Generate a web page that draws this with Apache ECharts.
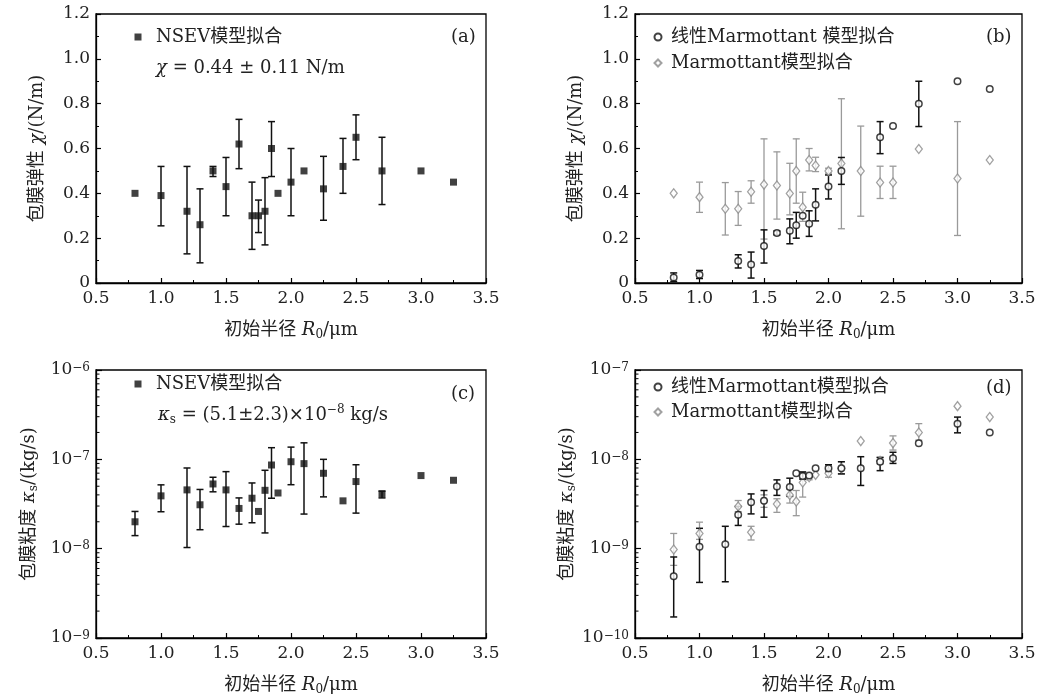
<!DOCTYPE html>
<html><head><meta charset="utf-8">
<script src="https://cdn.jsdelivr.net/npm/echarts@6/dist/echarts.min.js"></script>
<style>html,body{margin:0;padding:0;background:#fff}#c{width:1045px;height:697px}</style>
</head><body><div id="c"></div>
<script>
// ---------- data ----------
const xTicks = [0.5, 1.0, 1.5, 2.0, 2.5, 3.0, 3.5];
// (a) NSEV elasticity
const R_a = [0.8,1.0,1.2,1.3,1.4,1.5,1.6,1.7,1.75,1.8,1.85,1.9,2.0,2.1,2.25,2.4,2.5,2.7,3.0,3.25];
const chi_a = [0.40,0.39,0.32,0.26,0.50,0.43,0.62,0.30,0.30,0.32,0.60,0.40,0.45,0.50,0.42,0.52,0.65,0.50,0.50,0.45];
const chi_a_lo = [null,0.255,0.13,0.09,0.475,0.30,0.51,0.15,0.225,0.17,0.475,null,0.30,null,0.28,0.40,0.55,0.35,null,null];
const chi_a_hi = [null,0.52,0.52,0.42,0.52,0.56,0.73,0.45,0.37,0.47,0.72,null,0.60,null,0.565,0.645,0.75,0.65,null,null];
// (b) linear Marmottant elasticity
const R_bL = [0.8,1.0,1.3,1.4,1.5,1.6,1.7,1.75,1.8,1.85,1.9,2.0,2.1,2.4,2.5,2.7,3.0,3.25];
const chi_bL = [0.025,0.037,0.098,0.082,0.165,0.223,0.233,0.258,0.30,0.264,0.349,0.43,0.50,0.65,0.70,0.80,0.90,0.865];
const chi_bL_lo = [0.007,0.02,0.067,0.022,0.089,0.215,0.175,0.20,null,0.208,0.277,0.375,0.44,0.577,null,0.698,null,null];
const chi_bL_hi = [0.045,0.056,0.126,0.138,0.237,0.232,0.286,0.315,null,0.322,0.42,0.482,0.56,0.72,null,0.90,null,null];
// (b) Marmottant elasticity
const R_bM = [0.8,1.0,1.2,1.3,1.4,1.5,1.6,1.7,1.75,1.8,1.85,1.9,2.0,2.1,2.25,2.4,2.5,2.7,3.0,3.25];
const chi_bM = [0.40,0.383,0.331,0.331,0.407,0.439,0.435,0.399,0.50,0.338,0.549,0.524,0.50,0.533,0.50,0.448,0.448,0.598,0.466,0.549];
const chi_bM_lo = [null,0.315,0.214,0.257,0.356,0.196,0.285,0.304,0.356,0.275,0.50,0.497,0.49,0.242,0.298,0.377,0.377,null,0.212,null];
const chi_bM_hi = [null,0.45,0.448,0.408,0.456,0.643,0.585,0.534,0.643,0.405,0.60,0.561,0.512,0.822,0.70,0.521,0.521,null,0.72,null];
// (c) NSEV viscosity
const R_c = [0.8,1.0,1.2,1.3,1.4,1.5,1.6,1.7,1.75,1.8,1.85,1.9,2.0,2.1,2.25,2.4,2.5,2.7,3.0,3.25];
const kap_c = [2.0e-8,3.9e-8,4.55e-8,3.1e-8,5.3e-8,4.55e-8,2.82e-8,3.67e-8,2.61e-8,4.5e-8,8.64e-8,4.2e-8,9.4e-8,8.95e-8,6.98e-8,3.43e-8,5.64e-8,4.11e-8,6.58e-8,5.83e-8];
const kap_c_lo = [1.4e-8,2.59e-8,1.03e-8,1.63e-8,4.33e-8,1.77e-8,1.88e-8,1.95e-8,null,1.5e-8,3.67e-8,null,5.2e-8,2.44e-8,3.8e-8,null,2.5e-8,3.7e-8,null,null];
const kap_c_hi = [2.61e-8,5.18e-8,8.0e-8,4.6e-8,6.3e-8,7.28e-8,3.7e-8,5.44e-8,null,7.54e-8,1.35e-7,null,1.37e-7,1.53e-7,1.0e-7,null,8.7e-8,4.4e-8,null,null];
// (d) linear Marmottant viscosity
const R_dL = [0.8,1.0,1.2,1.3,1.4,1.5,1.6,1.7,1.75,1.8,1.85,1.9,2.0,2.1,2.25,2.4,2.5,2.7,3.0,3.25];
const kap_dL = [4.92e-10,1.05e-9,1.12e-9,2.39e-9,3.3e-9,3.44e-9,4.96e-9,4.89e-9,6.99e-9,6.52e-9,6.6e-9,7.94e-9,7.94e-9,7.94e-9,7.94e-9,9.4e-9,1.03e-8,1.51e-8,2.51e-8,2.0e-8];
const kap_dL_lo = [1.72e-10,4.19e-10,4.26e-10,1.82e-9,2.45e-9,2.25e-9,3.95e-9,3.85e-9,null,6.0e-9,null,null,7.2e-9,6.87e-9,5.1e-9,7.47e-9,9.0e-9,null,1.98e-8,null];
const kap_dL_hi = [8.07e-10,1.69e-9,1.78e-9,2.97e-9,4.1e-9,4.48e-9,5.89e-9,6.15e-9,null,7.22e-9,null,null,8.7e-9,9.4e-9,1.07e-8,1.05e-8,1.2e-8,null,2.97e-8,null];
// (d) Marmottant viscosity
const R_dM = [0.8,1.0,1.3,1.4,1.5,1.6,1.7,1.75,1.8,1.85,1.9,2.0,2.1,2.25,2.4,2.5,2.7,3.0,3.25];
const kap_dM = [9.8e-10,1.48e-9,2.97e-9,1.53e-9,3.44e-9,3.16e-9,3.98e-9,3.38e-9,5.5e-9,6.3e-9,6.7e-9,7.0e-9,7.94e-9,1.6e-8,9.6e-9,1.52e-8,2.0e-8,3.94e-8,2.97e-8];
const kap_dM_lo = [6.5e-10,1.27e-9,2.6e-9,1.25e-9,2.9e-9,2.55e-9,3.24e-9,2.34e-9,3.78e-9,5.9e-9,null,6.3e-9,6.87e-9,null,8.9e-9,1.27e-8,1.64e-8,null,null];
const kap_dM_hi = [1.48e-9,1.98e-9,3.46e-9,1.78e-9,4.0e-9,3.62e-9,4.64e-9,4.48e-9,7.2e-9,6.8e-9,null,7.8e-9,9.4e-9,null,1.05e-8,1.83e-8,2.51e-8,null,null];

const LABEL_NSEV = 'NSEV模型拟合';
const LABEL_LIN_B = '线性Marmottant 模型拟合';
const LABEL_LIN_D = '线性Marmottant模型拟合';
const LABEL_MAR = 'Marmottant模型拟合';

// ---------- chart ----------
const serif = "'DejaVu Serif','Noto Sans CJK SC',serif";
const FS = 18, TFS = 17, TXT = '#222';
const rich = {
  i: {fontStyle:'italic', fontFamily:serif, fontSize:FS, lineHeight:22, color:TXT},
  sub: {fontFamily:serif, fontSize:12, lineHeight:12, verticalAlign:'bottom', color:TXT},
  sup: {fontFamily:serif, fontSize:12, lineHeight:12, verticalAlign:'top', color:TXT}
};
const baseText = {fontFamily:serif, fontSize:FS, color:TXT, lineHeight:22, fontWeight:'normal', rich};

const grids = [
  {left:96, top:14, width:390, height:269},
  {left:635, top:14, width:387, height:269},
  {left:96, top:370, width:390, height:269},
  {left:635, top:370, width:387, height:269}
];

function xAxis(gi){
  return {type:'value', gridIndex:gi, min:xTicks[0], max:xTicks[xTicks.length-1], interval:0.5,
    axisLine:{lineStyle:{color:'#000', width:1.3}},
    axisTick:{inside:true, length:5, lineStyle:{color:'#000', width:1.2}},
    minorTick:{show:true, splitNumber:2, length:3, lineStyle:{color:'#000', width:1}},
    splitLine:{show:false},
    axisLabel:{formatter:v=>v.toFixed(1), margin:7, fontFamily:serif, fontSize:TFS, color:TXT},
    name:'初始半径 {i|R}{sub|0}/μm', nameLocation:'middle', nameGap:36, nameTextStyle:baseText};
}
function yLin(gi){
  return {type:'value', gridIndex:gi, min:0, max:1.2, interval:0.2,
    axisLine:{lineStyle:{color:'#000', width:1.3}},
    axisTick:{inside:true, length:5, lineStyle:{color:'#000', width:1.2}},
    minorTick:{show:true, splitNumber:2, length:3, lineStyle:{color:'#000', width:1}},
    splitLine:{show:false},
    axisLabel:{formatter:v=>v===0?'0':v.toFixed(1), margin:6, fontFamily:serif, fontSize:TFS, color:TXT},
    name:'包膜弹性 {i|χ}/(N/m)', nameLocation:'middle', nameGap:48, nameRotate:90, nameTextStyle:baseText};
}
function yLog(gi, lo, hi){
  return {type:'log', logBase:10, gridIndex:gi, min:lo, max:hi,
    axisLine:{lineStyle:{color:'#000', width:1.3}},
    axisTick:{inside:true, length:6, lineStyle:{color:'#000', width:1.2}},
    splitLine:{show:false},
    axisLabel:{formatter:v=>'10{sup|−'+Math.abs(Math.round(Math.log10(v)))+'}', margin:6,
      fontFamily:serif, fontSize:TFS, color:TXT, rich},
    name:'包膜粘度 {i|κ}{sub|s}/(kg/s)', nameLocation:'middle', nameGap:56, nameRotate:90, nameTextStyle:baseText};
}

function pts(R, v){ return R.map((r,i)=>[r, v[i]]); }
function errSeries(gi, R, lo, hi, color, lw){
  const data = [];
  R.forEach((r,i)=>{ if(lo[i]!=null && hi[i]!=null) data.push([r, lo[i], hi[i]]); });
  return {type:'custom', xAxisIndex:gi, yAxisIndex:gi, data, silent:true, z:2,
    encode:{x:0, y:[1,2]},
    renderItem(params, api){
      const x = api.value(0);
      const p1 = api.coord([x, api.value(1)]);
      const p2 = api.coord([x, api.value(2)]);
      const w = 3.5;
      const st = {stroke:color, lineWidth:lw};
      return {type:'group', children:[
        {type:'line', shape:{x1:p1[0],y1:p1[1],x2:p2[0],y2:p2[1]}, style:st},
        {type:'line', shape:{x1:p1[0]-w,y1:p1[1],x2:p1[0]+w,y2:p1[1]}, style:st},
        {type:'line', shape:{x1:p2[0]-w,y1:p2[1],x2:p2[0]+w,y2:p2[1]}, style:st}
      ]};
    }};
}
function minorLogTicks(gi, lo, hi){
  const vals = [];
  for (let d = lo; d < hi*0.999; d *= 10) for (let m = 2; m <= 9; m++) vals.push(d*m);
  return {type:'custom', xAxisIndex:gi, yAxisIndex:gi, data:vals.map(v=>[xTicks[0], v]), silent:true, z:3,
    renderItem(params, api){
      const p = api.coord([api.value(0), api.value(1)]);
      return {type:'line', shape:{x1:p[0], y1:p[1], x2:p[0]+3.5, y2:p[1]}, style:{stroke:'#000', lineWidth:1}};
    }};
}

const BLACK = '#111', GRAY = '#8a8a8a', GRAYBAR = '#9a9a9a';
const sq = (gi, name, data)=>({type:'scatter', name, xAxisIndex:gi, yAxisIndex:gi, data, symbol:'rect', symbolSize:7,
  itemStyle:{color:BLACK}, z:5});
const circ = (gi, name, data)=>({type:'scatter', name, xAxisIndex:gi, yAxisIndex:gi, data, symbol:'circle', symbolSize:6.5,
  itemStyle:{color:'#fff', borderColor:BLACK, borderWidth:1.5}, z:6});
const dia = (gi, name, data)=>({type:'scatter', name, xAxisIndex:gi, yAxisIndex:gi, data, symbol:'diamond', symbolSize:[7,9],
  itemStyle:{color:'#fff', borderColor:GRAY, borderWidth:1.3}, z:5});

function legend(names, markerX, textX, top, gap){
  const spacer = Math.max(0, textX - (markerX + 3.5 + 5));
  return {orient:'vertical', padding:0, itemWidth:7, itemHeight:7, itemGap:gap,
    left:markerX-3.5, top, data:names, selectedMode:false,
    formatter:n=>'{g| }'+n,
    textStyle:{fontFamily:serif, fontSize:FS, color:TXT, lineHeight:22,
      rich:{g:{width:spacer, fontSize:FS, lineHeight:22}}}};
}
const panelLabel = (txt, cx, cy)=>({text:txt, left:cx-13, top:cy-11, padding:0, textStyle:baseText});

const option = {
  animation:false,
  backgroundColor:'#fff',
  grid: grids.map(g=>Object.assign({show:true, borderColor:'#000', borderWidth:1.3, containLabel:false}, g)),
  xAxis:[xAxis(0), xAxis(1), xAxis(2), xAxis(3)],
  yAxis:[yLin(0), yLin(1), yLog(2, 1e-9, 1e-6), yLog(3, 1e-10, 1e-7)],
  legend:[
    legend([LABEL_NSEV], 138, 156, 26, 9),
    legend([LABEL_LIN_B, LABEL_MAR], 657, 670, 26, 4),
    legend([LABEL_NSEV], 138, 156, 373, 9),
    legend([LABEL_LIN_D, LABEL_MAR], 657, 670, 376, 3)
  ],
  title:[
    {text:'{i|χ} = 0.44 ± 0.11 N/m', left:156, top:57, padding:0, textStyle:baseText},
    panelLabel('(a)', 464, 37),
    panelLabel('(b)', 999, 37),
    {text:'{i|κ}{sub|s} = (5.1±2.3)×10{sup|−8} kg/s', left:158, top:404, padding:0, textStyle:baseText},
    panelLabel('(c)', 464, 394),
    panelLabel('(d)', 999, 388)
  ],
  series:[
    errSeries(0, R_a, chi_a_lo, chi_a_hi, BLACK, 1.5),
    sq(0, LABEL_NSEV, pts(R_a, chi_a)),
    errSeries(1, R_bM, chi_bM_lo, chi_bM_hi, GRAYBAR, 1.3),
    dia(1, LABEL_MAR, pts(R_bM, chi_bM)),
    errSeries(1, R_bL, chi_bL_lo, chi_bL_hi, BLACK, 1.5),
    circ(1, LABEL_LIN_B, pts(R_bL, chi_bL)),
    minorLogTicks(2, 1e-9, 1e-6),
    errSeries(2, R_c, kap_c_lo, kap_c_hi, BLACK, 1.5),
    sq(2, LABEL_NSEV, pts(R_c, kap_c)),
    minorLogTicks(3, 1e-10, 1e-7),
    errSeries(3, R_dM, kap_dM_lo, kap_dM_hi, GRAYBAR, 1.3),
    dia(3, LABEL_MAR, pts(R_dM, kap_dM)),
    errSeries(3, R_dL, kap_dL_lo, kap_dL_hi, BLACK, 1.5),
    circ(3, LABEL_LIN_D, pts(R_dL, kap_dL))
  ]
};
const chart = echarts.init(document.getElementById('c'));
chart.setOption(option);
</script></body></html>
